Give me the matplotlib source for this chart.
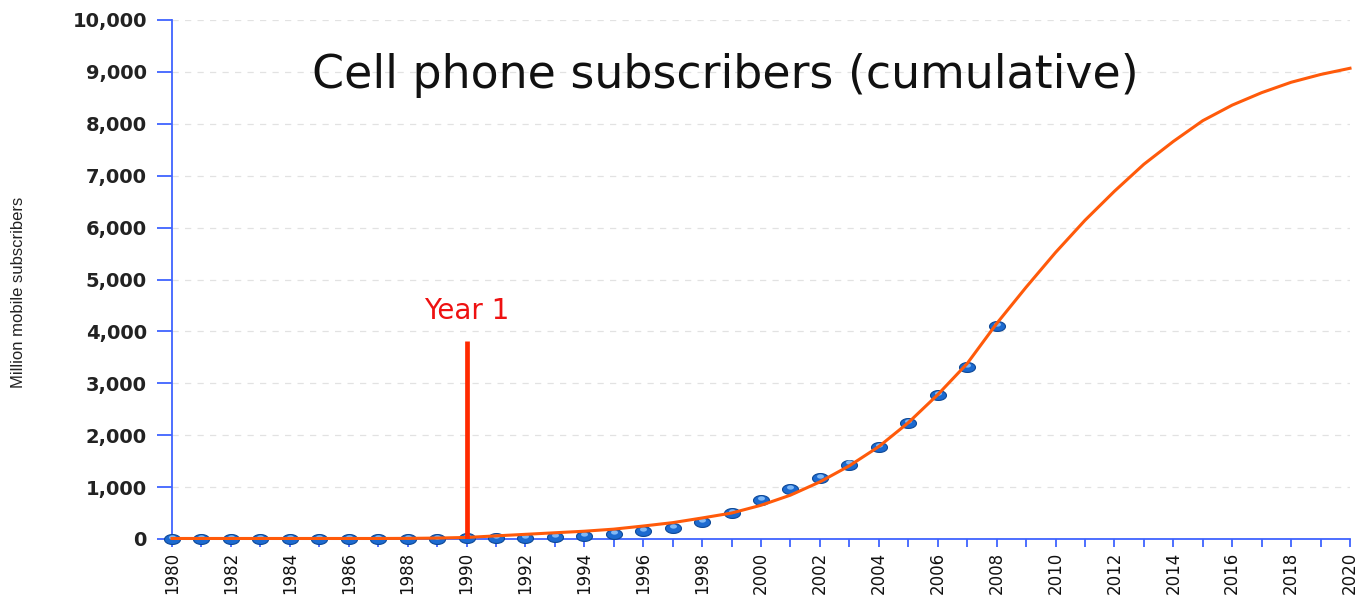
import matplotlib
matplotlib.use('Agg')
import matplotlib.pyplot as plt
import numpy as np
from matplotlib.path import Path
from matplotlib.transforms import ScaledTranslation
from matplotlib.ticker import FuncFormatter, MultipleLocator

# observed subscribers (millions), one point per year
obs_years = list(range(1980, 2009))
obs_subs = [0.02, 0.05, 0.1, 0.2, 0.3, 0.7, 1.4, 2.5, 4.3, 7.3,
            11, 16, 23, 36, 58, 92, 150, 212, 325, 495,
            745, 965, 1170, 1435, 1770, 2230, 2770, 3310, 4100]

# fitted cumulative curve (millions)
fit_years = list(range(1980, 2021))
fit_subs = [10, 10, 10, 10, 10, 10, 10, 10, 12, 18,
            30, 60, 90, 120, 150, 190, 250, 315, 405, 500,
            650, 845, 1100, 1410, 1780, 2240, 2780, 3380, 4150, 4850,
            5520, 6140, 6700, 7220, 7660, 8060, 8360, 8600, 8800, 8950,
            9070]

marker_year = 1990
marker_top = 3820
marker_label = 'Year 1'
title = 'Cell phone subscribers (cumulative)'
y_label = 'Million mobile subscribers'

axis_blue = '#3f63ff'

# squashed ellipse used for the "bead" markers
t = np.linspace(0, 2 * np.pi, 40)
bead = Path(np.column_stack([np.cos(t), 0.62 * np.sin(t)]), closed=True)

fig = plt.figure(figsize=(13.64, 6), dpi=100)
ax = fig.add_axes([172 / 1364, 61 / 600, 1178 / 1364, 519 / 600])

ax.set_xlim(1980, 2020)
ax.set_ylim(0, 10000)

for side in ('top', 'right'):
    ax.spines[side].set_visible(False)
for side in ('left', 'bottom'):
    ax.spines[side].set_color(axis_blue)
    ax.spines[side].set_linewidth(1.3)

ax.yaxis.set_major_locator(MultipleLocator(1000))
ax.yaxis.set_major_formatter(FuncFormatter(lambda v, p: f'{int(v):,}'))
ax.xaxis.set_major_locator(MultipleLocator(2))
ax.xaxis.set_minor_locator(MultipleLocator(1))
ax.xaxis.set_major_formatter(FuncFormatter(lambda v, p: f'{int(v)}'))

ax.tick_params(axis='y', colors=axis_blue, length=11, width=1.3, pad=7,
               labelcolor='#222222', labelsize=14)
ax.tick_params(axis='x', which='both', colors=axis_blue, length=6, width=1.3,
               pad=3, labelcolor='#111111', labelsize=12, labelrotation=90)
for lbl in ax.get_yticklabels():
    lbl.set_fontweight('bold')

ax.grid(axis='y', color='#e2e2e2', linestyle=(0, (5, 5)), linewidth=0.9)
ax.set_axisbelow(True)

# observed points: dark bead plus a light highlight on top
ax.plot(obs_years, obs_subs, linestyle='none', marker=bead, markersize=11.5,
        markerfacecolor='#1c6ad0', markeredgecolor='#0c4796',
        markeredgewidth=0.8, zorder=3, clip_on=False)
shift = ScaledTranslation(0, 1.5 / 72, fig.dpi_scale_trans)
ax.plot(obs_years, obs_subs, linestyle='none', marker=bead, markersize=5,
        markerfacecolor='#7fb8f5', markeredgewidth=0, zorder=3,
        transform=ax.transData + shift, clip_on=False)

ax.plot(fit_years, fit_subs, color='#ff5a0a', linewidth=2.2, zorder=4,
        clip_on=False)

ax.vlines(marker_year, 0, marker_top, color='#ff2a00', linewidth=3.4, zorder=5)
ax.text(marker_year, 4390, marker_label, color='#ee1111', fontsize=20,
        ha='center', va='center')

fig.text(725 / 1364, 1 - 76 / 600, title, fontsize=33, color='#111111',
         ha='center', va='center')

ax.set_ylabel(y_label, fontsize=12, family='Liberation Sans', color='#222222')
ax.yaxis.set_label_coords(26 / 1364, 1 - 292 / 600, transform=fig.transFigure)

fig.savefig('out.png', dpi=100)
